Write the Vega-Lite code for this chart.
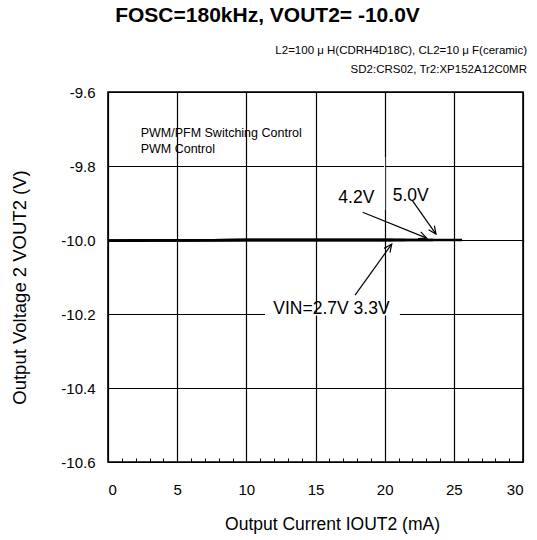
{
  "$schema": "https://vega.github.io/schema/vega-lite/v6.json",
  "width": 415,
  "height": 370,
  "autosize": "none",
  "padding": {"left": 108, "top": 92, "right": 14, "bottom": 78},
  "background": "white",
  "config": {
    "font": "Liberation Sans",
    "view": {"stroke": "black", "strokeWidth": 1.6},
    "axis": {"labelFont": "Liberation Sans", "titleFont": "Liberation Sans", "labelColor": "black", "titleColor": "black", "titleFontWeight": "normal"}
  },
  "datasets": {
    "curves": [
      {"vin": "2.7V", "iout": 0, "vout": -10.002},
      {"vin": "2.7V", "iout": 1, "vout": -10.002},
      {"vin": "2.7V", "iout": 3, "vout": -10.001},
      {"vin": "2.7V", "iout": 5, "vout": -10.001},
      {"vin": "2.7V", "iout": 10, "vout": -10.0},
      {"vin": "2.7V", "iout": 15, "vout": -10.0},
      {"vin": "2.7V", "iout": 20, "vout": -10.0},
      {"vin": "2.7V", "iout": 20.6, "vout": -10.0},
      {"vin": "3.3V", "iout": 0, "vout": -10.002},
      {"vin": "3.3V", "iout": 1, "vout": -10.002},
      {"vin": "3.3V", "iout": 3, "vout": -10.001},
      {"vin": "3.3V", "iout": 5, "vout": -10.001},
      {"vin": "3.3V", "iout": 10, "vout": -10.0},
      {"vin": "3.3V", "iout": 15, "vout": -10.0},
      {"vin": "3.3V", "iout": 20, "vout": -10.0},
      {"vin": "3.3V", "iout": 21.5, "vout": -10.0},
      {"vin": "4.2V", "iout": 0, "vout": -10.002},
      {"vin": "4.2V", "iout": 1, "vout": -10.002},
      {"vin": "4.2V", "iout": 3, "vout": -10.001},
      {"vin": "4.2V", "iout": 5, "vout": -10.001},
      {"vin": "4.2V", "iout": 10, "vout": -10.0},
      {"vin": "4.2V", "iout": 15, "vout": -10.0},
      {"vin": "4.2V", "iout": 20, "vout": -10.0},
      {"vin": "4.2V", "iout": 23.5, "vout": -10.0},
      {"vin": "5.0V", "iout": 0, "vout": -10.002},
      {"vin": "5.0V", "iout": 1, "vout": -10.002},
      {"vin": "5.0V", "iout": 3, "vout": -10.001},
      {"vin": "5.0V", "iout": 5, "vout": -10.001},
      {"vin": "5.0V", "iout": 10, "vout": -10.0},
      {"vin": "5.0V", "iout": 15, "vout": -10.0},
      {"vin": "5.0V", "iout": 20, "vout": -10.0},
      {"vin": "5.0V", "iout": 25.6, "vout": -10.0}
    ],
    "arrows": [
      {"label": "4.2V", "x1": 18.41, "y1": -9.925, "x2": 23.04, "y2": -9.995, "angle": 112},
      {"label": "5.0V", "x1": 21.98, "y1": -9.892, "x2": 23.71, "y2": -9.984, "angle": 145},
      {"label": "VIN", "x1": 17.86, "y1": -10.149, "x2": 20.51, "y2": -10.011, "angle": 36}
    ],
    "labels": [
      {"text": "4.2V", "x": 16.65, "y": -9.901},
      {"text": "5.0V", "x": 20.58, "y": -9.894},
      {"text": "VIN=2.7V 3.3V", "x": 11.95, "y": -10.2}
    ],
    "notes": [
      {"text": "PWM/PFM Switching Control", "x": 2.36, "y": -9.721},
      {"text": "PWM  Control", "x": 2.36, "y": -9.766}
    ],
    "header": [
      {"text": "L2=100 \u03bc H(CDRH4D18C), CL2=10 \u03bc F(ceramic)", "x": 30.29, "y": -9.497},
      {"text": "SD2:CRS02, Tr2:XP152A12C0MR", "x": 30.29, "y": -9.549}
    ],
    "heading": [
      {"text": "FOSC=180kHz, VOUT2= -10.0V", "x": 11.53, "y": -9.411}
    ],
    "mask": [
      {"x1": 11.35, "x2": 21.1, "y1": -10.196, "y2": -10.204},
      {"x1": 19.96, "x2": 20.04, "y1": -9.776, "y2": -9.919}
    ],
    "minor": [{"x": 0}]
  },
  "resolve": {"axis": {"x": "independent"}},
  "layer": [
    {
      "data": {"name": "minor"},
      "mark": {"type": "point", "opacity": 0},
      "encoding": {
        "x": {
          "field": "x", "type": "quantitative",
          "scale": {"domain": [0, 30], "nice": false},
          "axis": {"orient": "top", "offset": -370, "values": [1,2,3,4,6,7,8,9,11,12,13,14,16,17,18,19,21,22,23,24,26,27,28,29], "labels": false, "domain": false, "grid": false, "ticks": true, "tickSize": 4, "tickColor": "black", "tickWidth": 1, "title": null}
        },
        "y": {"value": 0}
      }
    },
    {
      "data": {"name": "curves"},
      "mark": {"type": "line", "color": "black", "strokeWidth": 2.4},
      "encoding": {
        "x": {
          "field": "iout", "type": "quantitative",
          "scale": {"domain": [0, 30], "nice": false},
          "axis": {"values": [0,5,10,15,20,25,30], "grid": true, "gridColor": "black", "gridOpacity": 1, "gridWidth": 1.2, "ticks": false, "domain": false, "labelPadding": 20, "labelFontSize": 15, "title": "Output Current IOUT2 (mA)", "titleFontSize": 17.5, "titleX": 224, "titleY": 62, "titleBaseline": "middle", "titleAlign": "center"}
        },
        "y": {
          "field": "vout", "type": "quantitative",
          "scale": {"domain": [-10.6, -9.6], "nice": false},
          "axis": {"values": [-10.6,-10.4,-10.2,-10.0,-9.8,-9.6], "labelExpr": "replace(format(datum.value, '.1f'), '\u2212', '-')", "grid": true, "gridColor": "black", "gridOpacity": 1, "gridWidth": 1.2, "ticks": false, "domain": false, "labelPadding": 13, "labelFontSize": 15, "title": "Output Voltage 2 VOUT2 (V)", "titleFontSize": 18.5, "titleX": -89, "titleY": 195, "titleBaseline": "middle", "titleAlign": "center", "titleAngle": -90}
        },
        "detail": {"field": "vin"}
      }
    },
    {
      "data": {"name": "mask"},
      "mark": {"type": "rect", "color": "white"},
      "encoding": {
        "x": {"field": "x1", "type": "quantitative", "axis": null},
        "x2": {"field": "x2"},
        "y": {"field": "y1", "type": "quantitative"},
        "y2": {"field": "y2"}
      }
    },
    {
      "data": {"name": "arrows"},
      "mark": {"type": "rule", "color": "black", "strokeWidth": 1.2},
      "encoding": {
        "x": {"field": "x1", "type": "quantitative", "axis": null},
        "y": {"field": "y1", "type": "quantitative"},
        "x2": {"field": "x2"},
        "y2": {"field": "y2"}
      }
    },
    {
      "data": {"name": "arrows"},
      "mark": {"type": "point", "shape": "M-0.45,1L0,0L0.45,1", "filled": false, "stroke": "black", "strokeWidth": 1.2, "opacity": 1, "size": 250},
      "encoding": {
        "x": {"field": "x2", "type": "quantitative", "axis": null},
        "y": {"field": "y2", "type": "quantitative"},
        "angle": {"field": "angle", "type": "quantitative", "scale": null}
      }
    },
    {
      "data": {"name": "labels"},
      "mark": {"type": "text", "align": "left", "baseline": "alphabetic", "fontSize": 17.5, "color": "black", "font": "Liberation Sans"},
      "encoding": {
        "x": {"field": "x", "type": "quantitative", "axis": null},
        "y": {"field": "y", "type": "quantitative"},
        "text": {"field": "text"}
      }
    },
    {
      "data": {"name": "notes"},
      "mark": {"type": "text", "align": "left", "baseline": "alphabetic", "fontSize": 12.5, "color": "black", "font": "Liberation Sans"},
      "encoding": {
        "x": {"field": "x", "type": "quantitative", "axis": null},
        "y": {"field": "y", "type": "quantitative"},
        "text": {"field": "text"}
      }
    },
    {
      "data": {"name": "header"},
      "mark": {"type": "text", "align": "right", "baseline": "alphabetic", "fontSize": 11.5, "color": "black", "font": "Liberation Sans"},
      "encoding": {
        "x": {"field": "x", "type": "quantitative", "axis": null},
        "y": {"field": "y", "type": "quantitative"},
        "text": {"field": "text"}
      }
    },
    {
      "data": {"name": "heading"},
      "mark": {"type": "text", "align": "center", "baseline": "alphabetic", "fontSize": 21, "fontWeight": "bold", "color": "black", "font": "Liberation Sans"},
      "encoding": {
        "x": {"field": "x", "type": "quantitative", "axis": null},
        "y": {"field": "y", "type": "quantitative"},
        "text": {"field": "text"}
      }
    }
  ]
}
